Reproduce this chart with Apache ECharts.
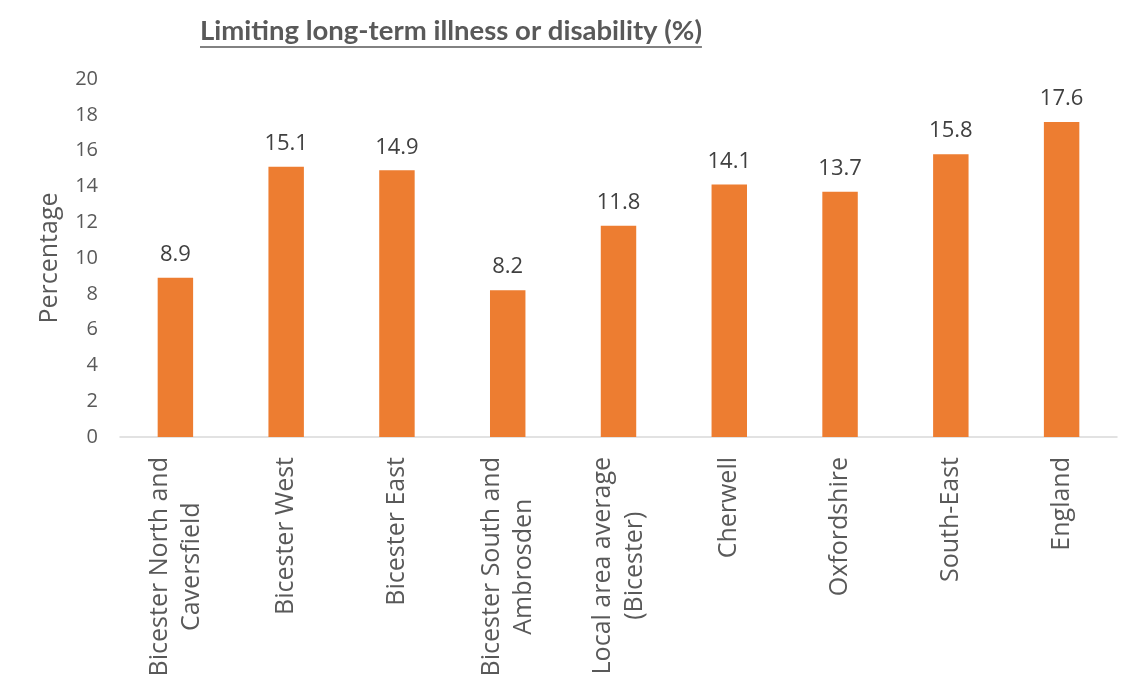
<!DOCTYPE html>
<html>
<head>
<meta charset="utf-8">
<script src="https://cdn.jsdelivr.net/npm/echarts@6/dist/echarts.min.js"></script>
<style>html,body{margin:0;padding:0;background:#fff}#main{width:1142px;height:689px}</style>
</head>
<body>
<div id="main"></div>
<script>
const titleText = 'Limiting long-term illness or disability (%)';
const categories = [
  'Bicester North and\nCaversfield',
  'Bicester West',
  'Bicester East',
  'Bicester South and\nAmbrosden',
  'Local area average\n(Bicester)',
  'Cherwell',
  'Oxfordshire',
  'South-East',
  'England'
];
const values = [8.9, 15.1, 14.9, 8.2, 11.8, 14.1, 13.7, 15.8, 17.6];
const yAxisName = 'Percentage';

const titleFont = 'bold 27.5px Lato';
const cv = document.createElement('canvas').getContext('2d');
cv.font = titleFont;
const titleW = cv.measureText(titleText).width;
const titleLeft = 200;

const chart = echarts.init(document.getElementById('main'), null, {renderer: 'canvas'});
chart.setOption({
  animation: false,
  backgroundColor: '#ffffff',
  graphic: [
    {type: 'text', left: titleLeft, top: 17, style: {text: titleText, font: titleFont, fill: '#595959'}},
    {type: 'line', shape: {x1: titleLeft, y1: 47, x2: titleLeft + titleW, y2: 47}, style: {stroke: '#595959', lineWidth: 1.5}}
  ],
  grid: {left: 120, right: 25, top: 79, bottom: 252, containLabel: false, outerBoundsMode: 'none'},
  xAxis: {
    type: 'category',
    data: categories,
    axisLine: {lineStyle: {color: '#d9d9d9', width: 1.5}},
    axisTick: {show: false},
    axisLabel: {
      rotate: 90,
      interval: 0,
      margin: 20,
      color: '#595959',
      fontFamily: 'Open Sans',
      fontSize: 25,
      formatter: function (v) { return v.split('\n').map(s => '{c|' + s + '}').join('\n'); },
      rich: {c: {align: 'center', color: '#595959', fontFamily: 'Open Sans', fontSize: 25, lineHeight: 32}}
    }
  },
  yAxis: {
    type: 'value',
    min: 0, max: 20, interval: 2,
    name: yAxisName,
    nameLocation: 'middle',
    nameGap: 58,
    nameRotate: 90,
    nameTextStyle: {color: '#595959', fontFamily: 'Open Sans', fontSize: 25},
    axisLine: {show: false},
    axisTick: {show: false},
    splitLine: {show: false},
    axisLabel: {color: '#595959', fontFamily: 'Open Sans', fontSize: 20, margin: 22}
  },
  series: [{
    type: 'bar',
    data: values,
    barWidth: '32%',
    itemStyle: {color: '#ED7D31'},
    label: {show: true, position: 'top', distance: 12, color: '#404040', fontFamily: 'Open Sans', fontSize: 22}
  }]
});
</script>
</body>
</html>
